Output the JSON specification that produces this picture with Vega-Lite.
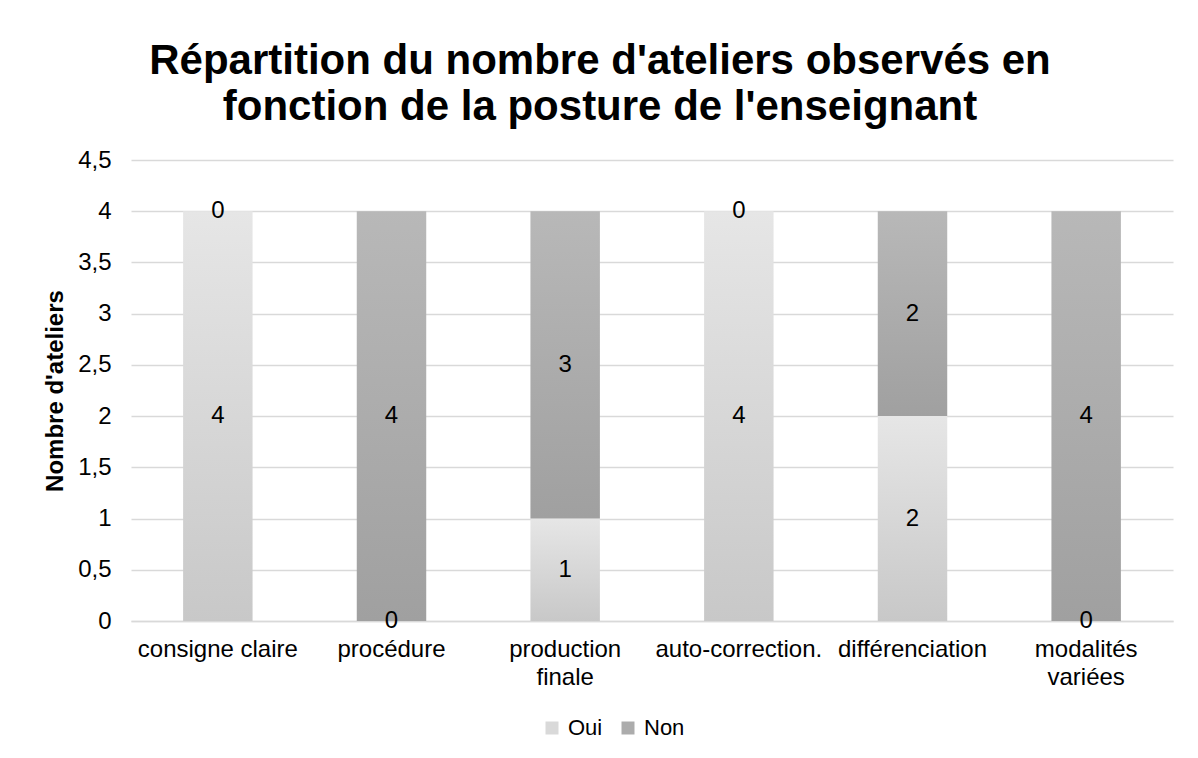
{
  "$schema": "https://vega.github.io/schema/vega-lite/v6.json",
  "width": 1042,
  "height": 461,
  "autosize": {"type": "none"},
  "padding": {"left": 131, "top": 160, "right": 25, "bottom": 137},
  "background": "white",
  "config": {"font": "Liberation Sans", "view": {"stroke": null}},
  "title": {
    "text": ["Répartition du nombre d'ateliers observés en", "fonction de la posture de l'enseignant"],
    "fontSize": 42,
    "fontWeight": "bold",
    "font": "Liberation Sans",
    "color": "#000000",
    "lineHeight": 46,
    "anchor": "middle",
    "dx": -52,
    "offset": 19
  },
  "data": {
    "values": [
      {"critere": "consigne claire", "serie": "Oui", "value": 4},
      {"critere": "consigne claire", "serie": "Non", "value": 0},
      {"critere": "procédure", "serie": "Oui", "value": 0},
      {"critere": "procédure", "serie": "Non", "value": 4},
      {"critere": "production finale", "serie": "Oui", "value": 1},
      {"critere": "production finale", "serie": "Non", "value": 3},
      {"critere": "auto-correction.", "serie": "Oui", "value": 4},
      {"critere": "auto-correction.", "serie": "Non", "value": 0},
      {"critere": "différenciation", "serie": "Oui", "value": 2},
      {"critere": "différenciation", "serie": "Non", "value": 2},
      {"critere": "modalités variées", "serie": "Oui", "value": 0},
      {"critere": "modalités variées", "serie": "Non", "value": 4}
    ]
  },
  "transform": [
    {"stack": "value", "groupby": ["critere"], "sort": [{"field": "serie", "order": "descending"}], "as": ["y0", "y1"]}
  ],
  "encoding": {
    "x": {
      "field": "critere",
      "type": "nominal",
      "sort": ["consigne claire", "procédure", "production finale", "auto-correction.", "différenciation", "modalités variées"],
      "scale": {"paddingInner": 0.6, "paddingOuter": 0.3},
      "axis": {
        "title": null,
        "labelAngle": 0,
        "labelFontSize": 24,
        "labelColor": "#000000",
        "labelPadding": 16,
        "labelLineHeight": 28,
        "ticks": false,
        "domain": true,
        "domainColor": "#d9d9d9",
        "domainWidth": 1.3,
        "grid": false,
        "labelExpr": "datum.value == 'production finale' ? ['production', 'finale'] : datum.value == 'modalités variées' ? ['modalités', 'variées'] : datum.label"
      }
    },
    "y": {
      "field": "y0",
      "type": "quantitative",
      "scale": {"domain": [0, 4.5], "nice": false},
      "axis": {
        "title": "Nombre d'ateliers",
        "titleFontSize": 24,
        "titleFontWeight": "bold",
        "titleColor": "#000000",
        "titlePadding": 10,
        "values": [0, 0.5, 1, 1.5, 2, 2.5, 3, 3.5, 4, 4.5],
        "labelExpr": "replace(format(datum.value, '.1~f'), '.', ',')",
        "labelFontSize": 24,
        "labelColor": "#000000",
        "labelPadding": 20,
        "ticks": false,
        "domain": false,
        "grid": true,
        "gridColor": "#d9d9d9",
        "gridWidth": 1.3
      }
    }
  },
  "layer": [
    {
      "transform": [{"filter": "datum.serie == 'Oui'"}],
      "mark": {
        "type": "bar",
        "color": {"gradient": "linear", "x1": 0, "y1": 0, "x2": 0, "y2": 1, "stops": [{"offset": 0, "color": "#e6e6e6"}, {"offset": 1, "color": "#c8c8c8"}]}
      },
      "encoding": {"y2": {"field": "y1"}}
    },
    {
      "transform": [{"filter": "datum.serie == 'Non'"}],
      "mark": {
        "type": "bar",
        "color": {"gradient": "linear", "x1": 0, "y1": 0, "x2": 0, "y2": 1, "stops": [{"offset": 0, "color": "#b8b8b8"}, {"offset": 1, "color": "#a0a0a0"}]}
      },
      "encoding": {"y2": {"field": "y1"}}
    },
    {
      "mark": {"type": "point", "opacity": 0, "shape": "square", "filled": true},
      "encoding": {
        "color": {
          "field": "serie",
          "type": "nominal",
          "scale": {"domain": ["Oui", "Non"], "range": ["#d9d9d9", "#acacac"]},
          "legend": {
            "title": null,
            "orient": "none",
            "direction": "horizontal",
            "legendX": 410,
            "legendY": 557,
            "labelFontSize": 22,
            "labelColor": "#000000",
            "symbolType": "square",
            "symbolSize": 169,
            "symbolOpacity": 1,
            "symbolStrokeWidth": 0,
            "columnPadding": 14,
            "labelOffset": 5
          }
        }
      }
    },
    {
      "transform": [{"calculate": "(datum.y0 + datum.y1) / 2", "as": "mid"}],
      "mark": {"type": "text", "fontSize": 24, "color": "#000000", "baseline": "middle"},
      "encoding": {
        "y": {"field": "mid", "type": "quantitative"},
        "text": {"field": "value", "type": "quantitative"}
      }
    }
  ]
}
